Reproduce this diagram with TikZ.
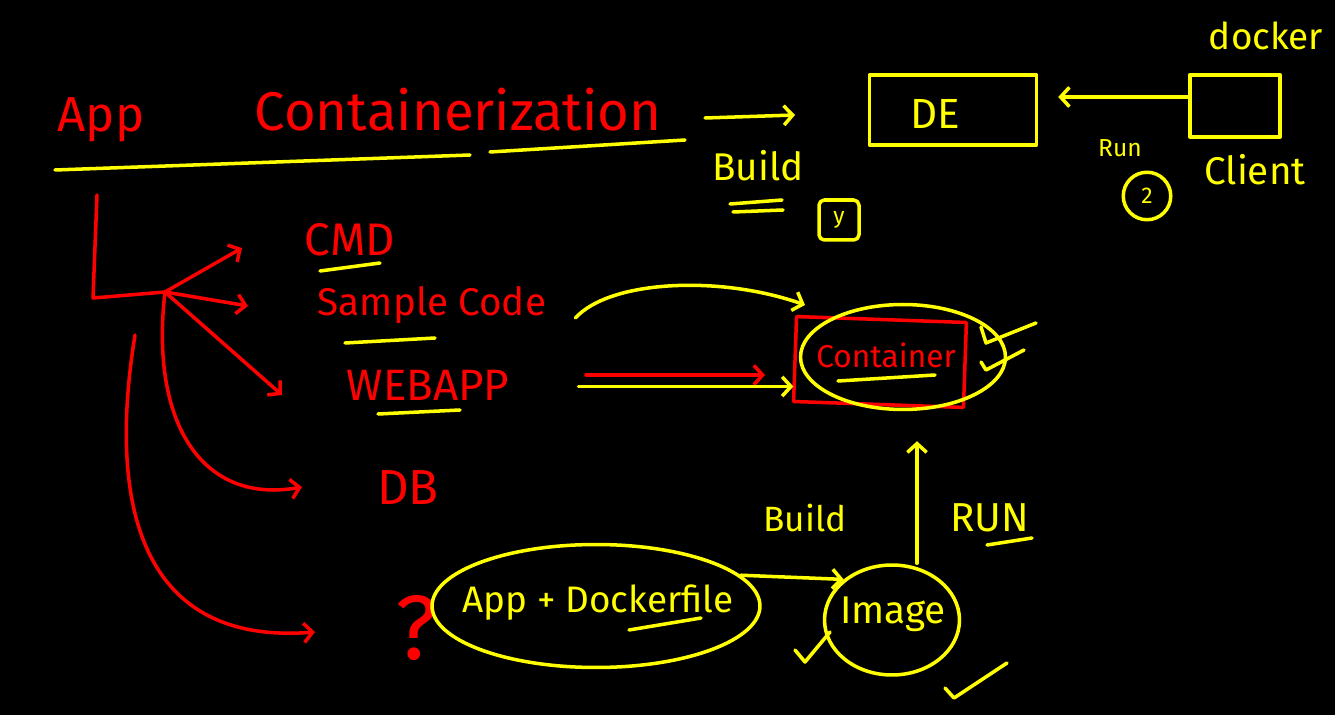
\documentclass[tikz,border=0pt]{standalone}
\usepackage{fontspec}
\setmainfont{Fira Sans}
\usetikzlibrary{arrows.meta,shapes.geometric,positioning}
\definecolor{inkred}{rgb}{1,0,0}
\definecolor{inkyellow}{rgb}{1,1,0}

\begin{document}
\begin{tikzpicture}[x=0.02cm, y=-0.02cm, line width=2pt, line cap=round, line join=round,
    redword/.style={text=inkred, inner sep=0pt},
    yellowword/.style={text=inkyellow, inner sep=0pt},
    redline/.style={draw=inkred},
    yellowline/.style={draw=inkyellow},
    inkarrow/.style={-{Straight Barb[length=5pt,width=11pt,line width=2pt]}},
    bubble/.style={draw=inkyellow, ellipse, inner sep=0pt}]
  \fill[black] (0,0) rectangle (1335,715);

  % title
  \node[redword, font=\fontsize{28}{28}\selectfont] (app) at (101,120) {App};
  \node[redword, font=\fontsize{31}{31}\selectfont] (containerization) at (458,110) {Containerization};
  \draw[yellowline] (55,170) -- (470,155);
  \draw[yellowline] (490,152) -- (685,140);

  % build to DE
  \coordinate (buildstart) at (705,118);
  \coordinate (buildend) at (795,115);
  \draw[yellowline, inkarrow] (buildstart) -- (buildend);
  \node[yellowword, font=\fontsize{22}{22}\selectfont] (topbuild) at (758,166) {Build};
  \draw[yellowline] (730,204) -- (782,200);
  \draw[yellowline] (733,212) -- (783,210);
  \node[yellowword, draw=inkyellow, rounded corners=3pt, minimum width=0.8cm, minimum height=0.8cm,
        font=\fontsize{13}{13}\selectfont] (ybox) at (839,220) {y};

  \node[draw=inkyellow, minimum width=3.34cm, minimum height=1.4cm] (debox) at (953,110) {};
  \node[yellowword, font=\fontsize{24}{24}\selectfont] (de) at (935,114) {DE};
  \node[draw=inkyellow, minimum width=1.8cm, minimum height=1.25cm] (dockerbox) at (1235,106) {};
  \node[yellowword, font=\fontsize{21}{21}\selectfont] (docker) at (1266,36) {docker};
  \node[yellowword, font=\fontsize{22}{22}\selectfont] (client) at (1255,170) {Client};
  \node[yellowword, font=\fontsize{14}{14}\selectfont] (run) at (1120,148) {Run};
  \node[yellowword, draw=inkyellow, circle, minimum size=0.95cm, font=\fontsize{13}{13}\selectfont] (two) at (1147,196) {2};
  \draw[yellowline, inkarrow, shorten >=0.4cm] ([yshift=0.18cm]dockerbox.west) -- ([yshift=0.18cm]dockerbox.west -| debox.east);

  % app parts
  \node[redword, font=\fontsize{26}{26}\selectfont] (cmd) at (350,240) {CMD};
  \draw[yellowline] (320,271) -- (380,263);
  \node[redword, font=\fontsize{22}{22}\selectfont] (samplecode) at (432,305) {Sample Code};
  \draw[yellowline] (345,343) -- (435,338);
  \node[redword, font=\fontsize{25}{25}\selectfont] (webapp) at (428,385) {WEBAPP};
  \draw[yellowline] (378,414) -- (460,410);
  \node[redword, font=\fontsize{28}{28}\selectfont] (db) at (408,488) {DB};
  \node[redword, font=\fontsize{52}{52}\selectfont] (question) at (416,628) {?};

  \coordinate (treetop) at (97,195);
  \coordinate (treecorner) at (93,298);
  \coordinate (fork) at (165,292);
  \coordinate (lowbranch) at (135,335);
  \coordinate (cmdtip) at (242,248);
  \coordinate (sampletip) at (248,306);
  \coordinate (webtip) at (282,395);
  \coordinate (dbtip) at (302,487);
  \coordinate (asktip) at (315,632);
  \draw[redline] (treetop) -- (treecorner) -- (fork);
  \draw[redline, inkarrow] (fork) -- (cmdtip);
  \draw[redline, inkarrow] (fork) -- (sampletip);
  \draw[redline, inkarrow] (fork) -- (webtip);
  \draw[redline, inkarrow] (fork) .. controls (150,420) and (200,505) .. (dbtip);
  \draw[redline, inkarrow] (lowbranch) .. controls (105,520) and (150,645) .. (asktip);

  % container
  \node[redword, font=\fontsize{18}{18}\selectfont] (container) at (886,355) {Container};
  \draw[yellowline] (838,381) -- (935,375);
  \node[draw=inkred, minimum width=3.4cm, minimum height=1.7cm, rotate=-2] (cbox) at (880,362) {};
  \node[bubble, minimum width=4.1cm, minimum height=2.1cm] (cring) at (903,357) {};
  \draw[yellowline] (981,327) -- (986,343) -- (1036,323);
  \draw[yellowline] (981,362) -- (986,370) -- (1024,350);

  \draw[yellowline, inkarrow] ([xshift=0.55cm,yshift=-0.26cm]samplecode.east) .. controls (610,280) and (720,275) .. (805,305);
  \draw[redline, inkarrow, shorten <=1.5cm] ([yshift=0.2cm]webapp.east) -- ([yshift=0.2cm]webapp.east -| 765,0);
  \draw[yellowline, inkarrow, shorten <=1.35cm] ([yshift=-0.03cm]webapp.east) -- ([yshift=-0.03cm]webapp.east -| cbox.west);

  % dockerfile to image
  \node[bubble, minimum width=6.56cm, minimum height=2.46cm] (appdock) at (596,606) {};
  \node[yellowword, font=\fontsize{21}{21}\selectfont] (appdocktext) at (598,603) {App + Dockerfile};
  \draw[yellowline] (629,630) -- (701,618);
  \node[bubble, minimum width=2.7cm, minimum height=2.2cm] (image) at (892,620) {};
  \node[yellowword, font=\fontsize{22}{22}\selectfont] (imagetext) at (893,614) {Image};
  \draw[yellowline, inkarrow] (appdock.12) -- (image.140);
  \node[yellowword, font=\fontsize{20}{20}\selectfont] (bottombuild) at (805,518) {Build};
  \draw[yellowline, inkarrow, shorten >=0.6cm] ([xshift=0.5cm]image.north) -- ([xshift=0.5cm]image.north |- cring.south);
  \node[yellowword, font=\fontsize{23}{23}\selectfont] (runlabel) at (990,518) {RUN};
  \draw[yellowline] (987,545) -- (1032,538);
  \draw[yellowline] (795,650) -- (805,662) -- (830,632);
  \draw[yellowline] (945,688) -- (954,698) -- (1007,663);
\end{tikzpicture}
\end{document}
